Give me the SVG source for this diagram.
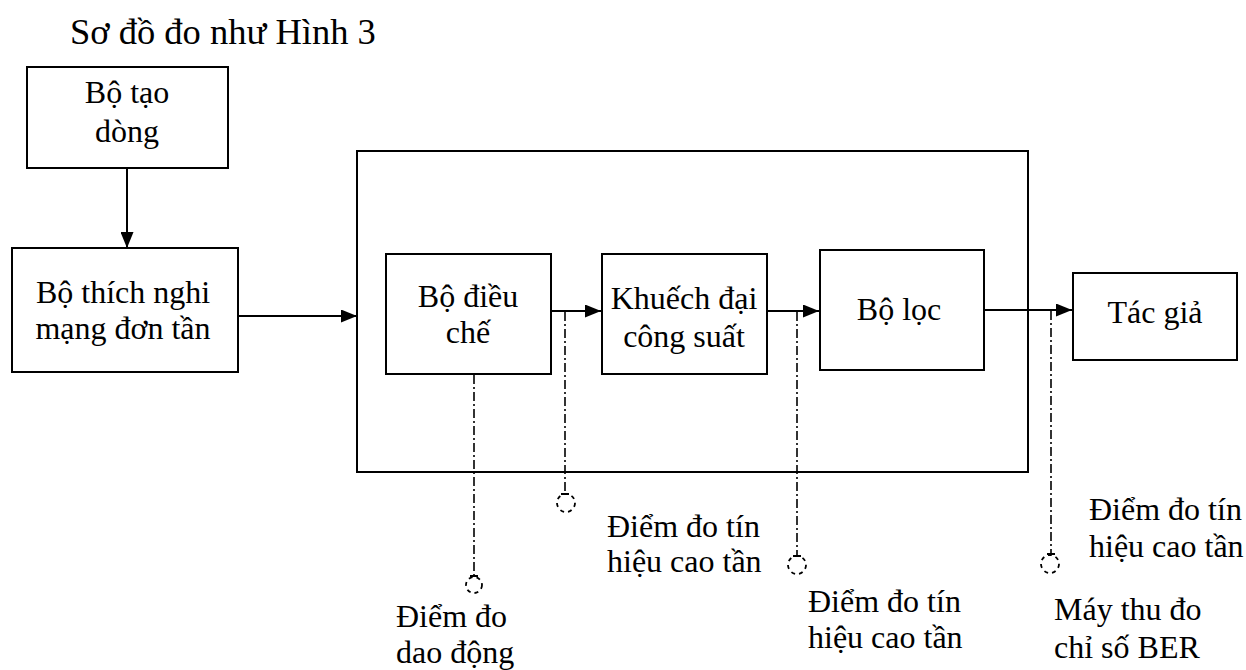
<svg xmlns="http://www.w3.org/2000/svg" width="1246" height="670" viewBox="0 0 1246 670">
<style>
.box{fill:#fff;stroke:#000;stroke-width:2}
.t{font-family:"Liberation Serif","Times New Roman",serif;font-size:32px;fill:#000}
.c{text-anchor:middle}
.ln{stroke:#000;stroke-width:2;fill:none}
.dd{stroke:#000;stroke-width:1.6;fill:none;stroke-dasharray:9 3 2 3}
.pt{stroke:#000;stroke-width:1.8;fill:none;stroke-dasharray:4 4}
</style>
<defs>
<marker id="ah" markerWidth="16" markerHeight="13" refX="16" refY="6.5" orient="auto" markerUnits="userSpaceOnUse">
<path d="M0,0 L16,6.5 L0,13 Z" fill="#000"/>
</marker>
</defs>
<rect width="1246" height="670" fill="#fff"/>
<text class="t" x="70" y="44" style="font-size:36.5px">Sơ đồ đo như Hình 3</text>

<g id="container"><rect class="box" x="357" y="151" width="671" height="321" fill="none"/></g>

<g id="n-tao-dong"><rect class="box" x="27" y="67" width="201" height="101"/>
<text class="t c" x="127" y="103">Bộ tạo</text><text class="t c" x="127" y="142">dòng</text></g>

<g id="n-thich-nghi"><rect class="box" x="12" y="248" width="226" height="124"/>
<text class="t c" x="123" y="303">Bộ thích nghi</text><text class="t c" x="123" y="339">mạng đơn tần</text></g>

<g id="n-dieu-che"><rect class="box" x="386" y="254" width="165" height="120"/>
<text class="t c" x="468" y="307">Bộ điều</text><text class="t c" x="468" y="343">chế</text></g>

<g id="n-khuech-dai"><rect class="box" x="602" y="254" width="165" height="120"/>
<text class="t c" x="684" y="309">Khuếch đại</text><text class="t c" x="684" y="347">công suất</text></g>

<g id="n-bo-loc"><rect class="box" x="820" y="250" width="164" height="120"/>
<text class="t c" x="899" y="320">Bộ lọc</text></g>

<g id="n-tac-gia"><rect class="box" x="1073" y="273" width="164" height="87"/>
<text class="t c" x="1155" y="323">Tác giả</text></g>

<g id="connectors">
<line class="ln" x1="127" y1="168" x2="127" y2="248" marker-end="url(#ah)"/>
<line class="ln" x1="238" y1="316" x2="357" y2="316" marker-end="url(#ah)"/>
<line class="ln" x1="551" y1="311" x2="601" y2="311" marker-end="url(#ah)"/>
<line class="ln" x1="767" y1="311" x2="819" y2="311" marker-end="url(#ah)"/>
<line class="ln" x1="984" y1="310" x2="1072" y2="310" marker-end="url(#ah)"/>
<line class="dd" x1="565" y1="312" x2="565" y2="494"/>
<line class="dd" x1="797" y1="312" x2="797" y2="556"/>
<line class="dd" x1="1051" y1="311" x2="1051" y2="554"/>
<line class="dd" x1="474" y1="375" x2="474" y2="576"/>
</g>

<g id="p1"><line class="ln" x1="561" y1="494" x2="569" y2="494" stroke-width="1.5"/><circle class="pt" cx="566" cy="503" r="9"/>
<text class="t" x="607" y="537">Điểm đo tín</text><text class="t" x="607" y="572">hiệu cao tần</text></g>

<g id="p2"><line class="ln" x1="793" y1="556" x2="801" y2="556" stroke-width="1.5"/><circle class="pt" cx="797" cy="565" r="9"/>
<text class="t" x="808" y="612">Điểm đo tín</text><text class="t" x="808" y="648">hiệu cao tần</text></g>

<g id="p3"><line class="ln" x1="1047" y1="554" x2="1055" y2="554" stroke-width="1.5"/><circle class="pt" cx="1050" cy="564" r="9"/>
<text class="t" x="1089" y="520">Điểm đo tín</text><text class="t" x="1089" y="557">hiệu cao tần</text>
<text class="t" x="1054" y="620">Máy thu đo</text><text class="t" x="1054" y="658">chỉ số BER</text></g>

<g id="p4"><line class="ln" x1="470" y1="576" x2="478" y2="576" stroke-width="1.5"/><circle class="pt" cx="474" cy="585" r="8"/>
<text class="t" x="396" y="627">Điểm đo</text><text class="t" x="396" y="663">dao động</text></g>
</svg>
